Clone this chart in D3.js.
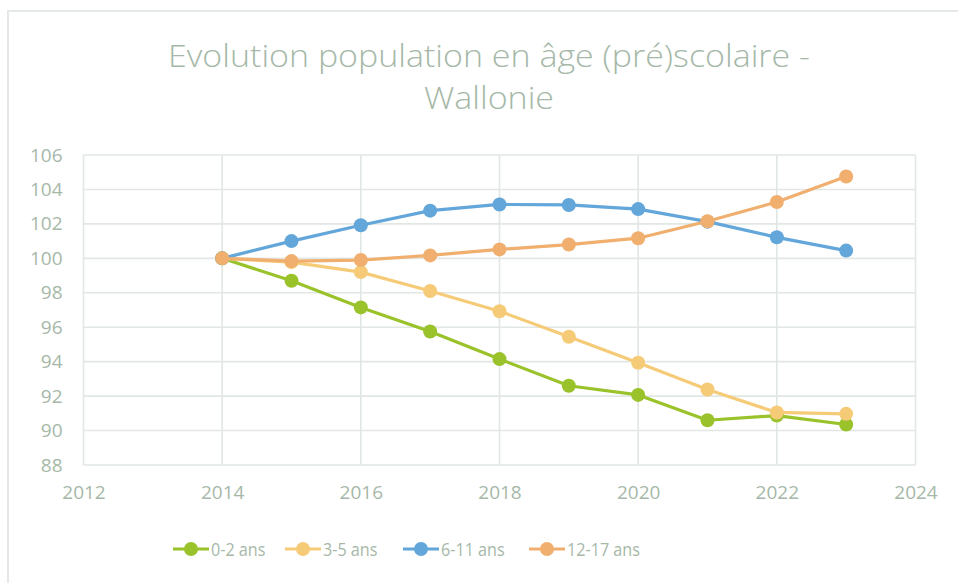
<!DOCTYPE html>
<html><head><meta charset="utf-8">
<script src="https://cdn.jsdelivr.net/npm/d3@7"></script>
<style>body{margin:0;background:#fff}svg{display:block}</style>
</head><body>
<svg id="c" width="958" height="583"></svg>
<script>
const years = [2014,2015,2016,2017,2018,2019,2020,2021,2022,2023];
const seriesNames = ["0-2 ans","3-5 ans","6-11 ans","12-17 ans"];
const v0_2   = [100,98.7,97.15,95.75,94.15,92.6,92.07,90.6,90.87,90.35];
const v3_5   = [100,99.78,99.2,98.1,96.93,95.45,93.94,92.38,91.05,90.97];
const v6_11  = [100,101.0,101.92,102.77,103.13,103.1,102.86,102.13,101.22,100.45];
const v12_17 = [100,99.84,99.9,100.17,100.52,100.8,101.17,102.15,103.27,104.75];
const colors = ["#9AC22B","#F6CB78","#62A6DA","#F0AF6E"];
const xTicks = [2012,2014,2016,2018,2020,2022,2024];
const yTicks = [88,90,92,94,96,98,100,102,104,106];
const titleLines = ["Evolution population en âge (pré)scolaire -","Wallonie"];

const svg = d3.select("#c");
const txt = "#A6B8A8", grid = "#E1E7E3";
const font = "'Open Sans', sans-serif";

svg.append("path").attr("d","M8,583 L8,11 L958,11").attr("fill","none").attr("stroke","#E4E9E6").attr("stroke-width",2);

const x = d3.scaleLinear().domain([2012,2024]).range([83.5,915.5]);
const y = d3.scaleLinear().domain([88,106]).range([465,155]);

// title
const t1 = svg.append("text").attr("x",489).attr("y",67).attr("text-anchor","middle")
  .attr("fill",txt).attr("font-family",font).attr("font-weight",300).attr("font-size",30).text(titleLines[0]);
const w = t1.node().getComputedTextLength();
const fs = 32;
t1.attr("font-size",fs).attr("textLength",642).attr("lengthAdjust","spacingAndGlyphs");
const t2 = svg.append("text").attr("x",489).attr("y",109).attr("text-anchor","middle")
  .attr("fill",txt).attr("font-family",font).attr("font-weight",300).attr("font-size",fs).text(titleLines[1]);
t2.attr("textLength",t2.node().getComputedTextLength()*642/(w*fs/30)).attr("lengthAdjust","spacingAndGlyphs");

// grid
const g = svg.append("g");
g.selectAll(".h").data(yTicks).join("line").attr("x1",x(2012)).attr("x2",x(2024))
  .attr("y1",d=>y(d)).attr("y2",d=>y(d)).attr("stroke",grid).attr("stroke-width",1.6);
g.selectAll(".v").data(xTicks).join("line").attr("y1",y(88)).attr("y2",y(106))
  .attr("x1",d=>x(d)).attr("x2",d=>x(d)).attr("stroke",grid).attr("stroke-width",1.6);

// axes labels
const yAxis = svg.append("g").attr("transform",`translate(${x(2012)},0)`)
  .call(d3.axisLeft(y).tickValues(yTicks).tickSize(0).tickPadding(21));
yAxis.select(".domain").remove();
yAxis.selectAll("text").attr("fill",txt).attr("font-family",font).attr("font-size",19);
const xAxis = svg.append("g").attr("transform",`translate(0,${y(88)})`)
  .call(d3.axisBottom(x).tickValues(xTicks).tickFormat(d3.format("d")).tickSize(0).tickPadding(21));
xAxis.select(".domain").remove();
xAxis.selectAll("text").attr("fill",txt).attr("font-family",font).attr("font-size",19);

// series
const data = [v0_2,v3_5,v6_11,v12_17];
const line = d3.line().x((d,i)=>x(years[i])).y(d=>y(d));
data.forEach((vals,k)=>{
  const s = svg.append("g");
  s.append("path").datum(vals).attr("d",line).attr("fill","none").attr("stroke",colors[k]).attr("stroke-width",3.2).attr("stroke-linejoin","round");
  s.selectAll("circle").data(vals).join("circle").attr("cx",(d,i)=>x(years[i])).attr("cy",d=>y(d)).attr("r",7).attr("fill",colors[k]);
});

// legend
const legX = [173,285,403,529];
const lg = svg.append("g");
seriesNames.forEach((n,k)=>{
  const gx = legX[k], gy = 549;
  lg.append("line").attr("x1",gx).attr("x2",gx+36).attr("y1",gy).attr("y2",gy).attr("stroke",colors[k]).attr("stroke-width",3.2);
  lg.append("circle").attr("cx",gx+18).attr("cy",gy).attr("r",7).attr("fill",colors[k]);
  const t = lg.append("text").attr("x",gx+38).attr("y",gy+7).attr("fill",txt).attr("font-family",font).attr("font-size",19).text(n);
  t.attr("textLength",t.node().getComputedTextLength()*0.85).attr("lengthAdjust","spacingAndGlyphs");
});
</script>
</body></html>
